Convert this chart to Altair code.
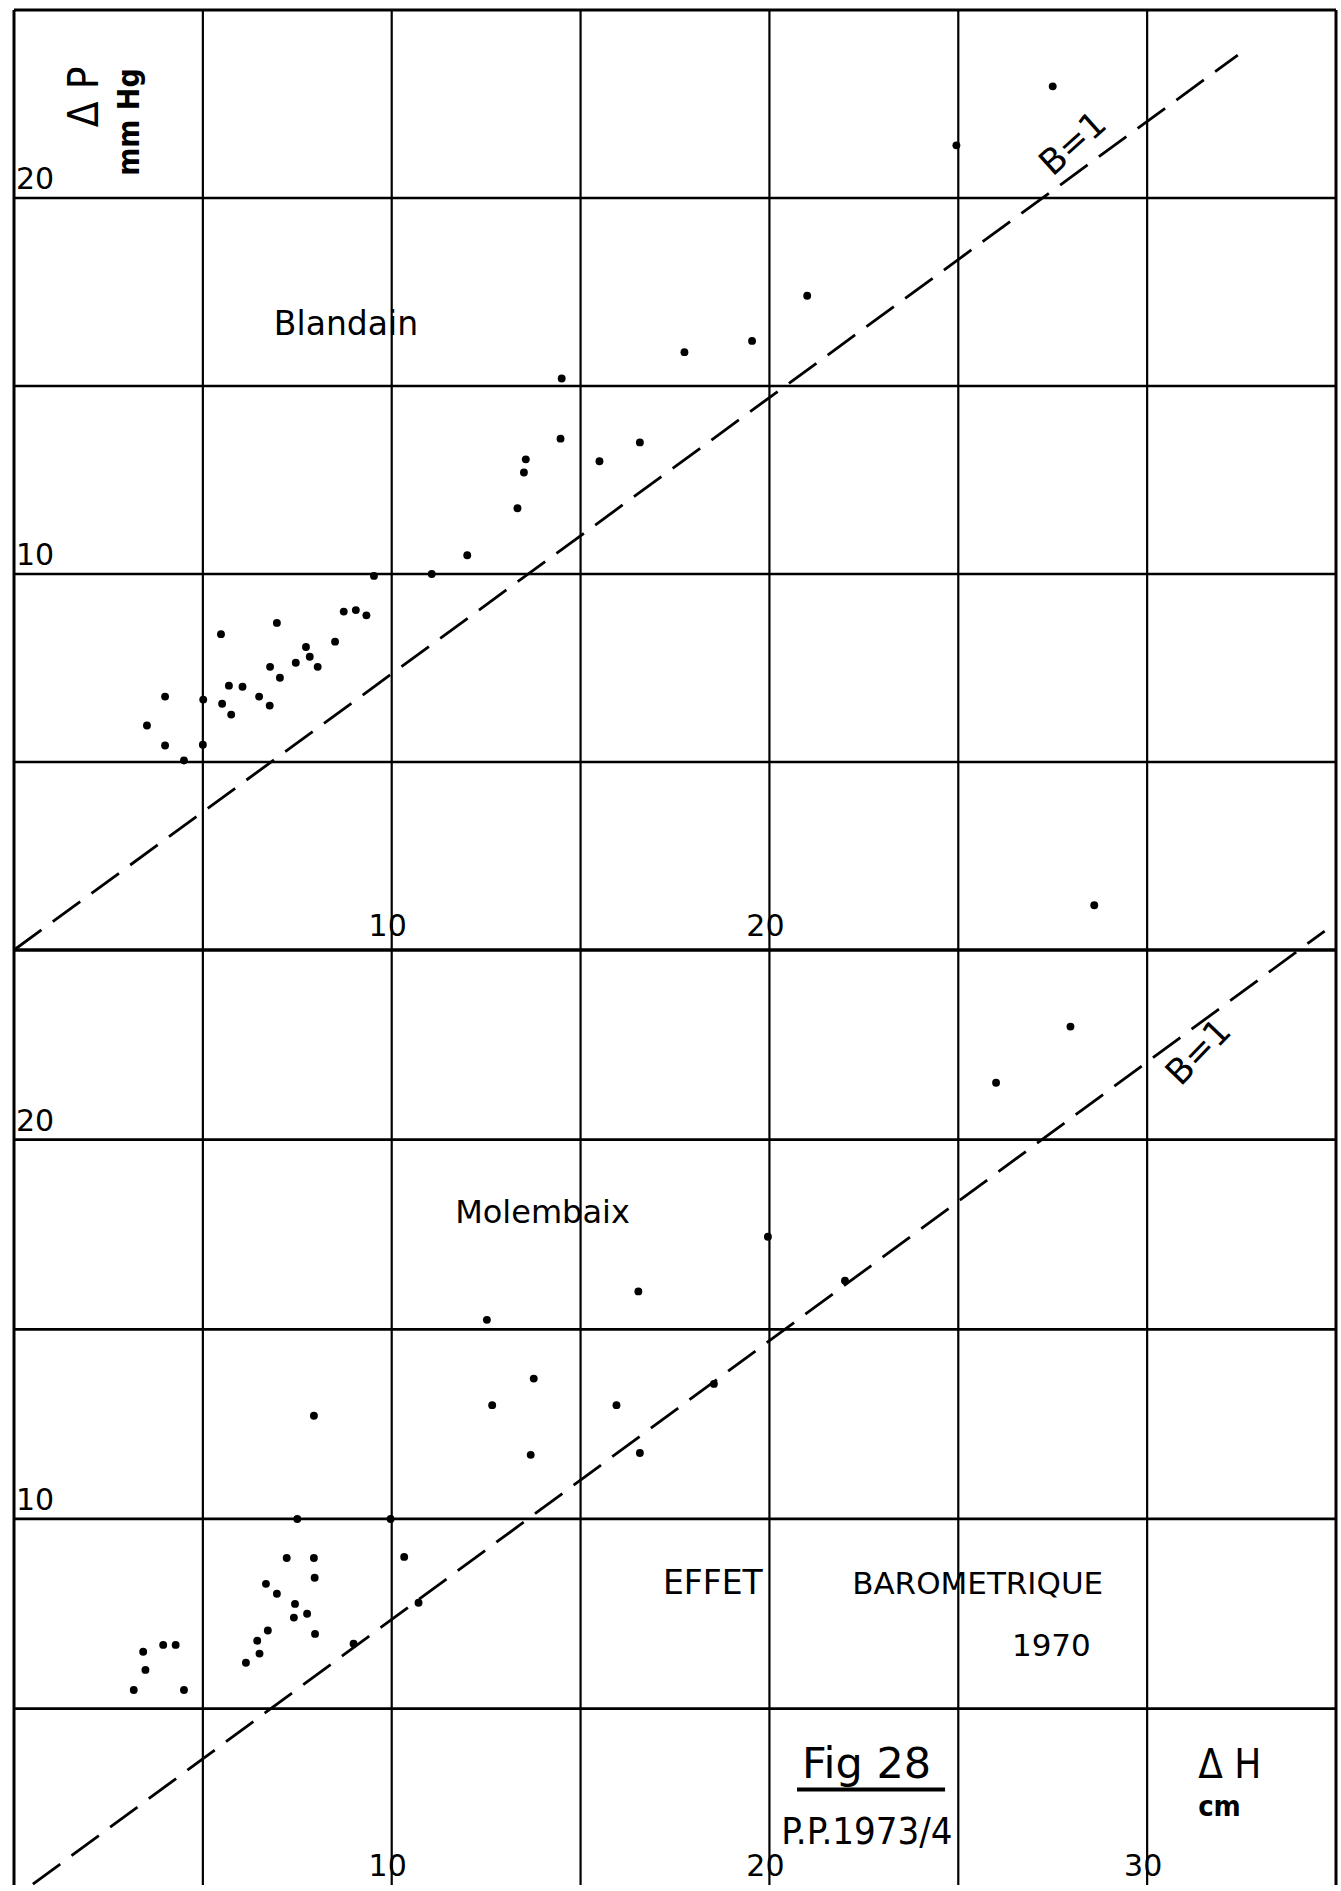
import altair as alt
import pandas as pd

# ---- Blandain : ΔH (cm) vs ΔP (mmHg) ----
blandain_dh = [14.5, 17.75, 14.47, 16.57, 15.5, 13.55, 13.5, 27.5, 24.95, 21.0,
               19.54, 13.33, 12.0, 11.06, 9.53, 8.73, 9.05, 9.33, 6.96, 5.48,
               8.5, 7.73, 7.83, 7.46, 6.78, 8.04, 7.04, 5.69, 6.05, 4.0,
               5.01, 6.49, 5.51, 6.77, 5.75, 3.52, 4.0, 5.0, 4.5, 28.6]
blandain_dp = [15.2, 15.9, 13.6, 13.5, 13.0, 13.05, 12.7, 22.97, 21.4, 17.4,
               16.2, 11.75, 10.5, 10.0, 9.95, 9.0, 9.04, 8.9, 8.7, 8.4,
               8.2, 8.06, 7.8, 7.64, 7.53, 7.53, 7.24, 7.03, 7.0, 6.74,
               6.66, 6.74, 6.55, 6.5, 6.26, 5.97, 5.44, 5.46, 5.04, 1.19]

# ---- Molembaix : ΔH (cm) vs ΔP (mmHg) ----
molembaix_dh = [12.52, 16.53, 13.76, 27.97, 26.0, 19.96, 22.0, 18.53, 12.66, 15.95,
                7.94, 13.68, 16.57, 7.5, 9.97, 7.22, 7.94, 10.33, 7.96, 6.67,
                6.96, 7.44, 10.71, 7.41, 7.76, 6.72, 7.97, 8.99, 6.44, 6.5,
                6.14, 3.42, 3.95, 4.28, 3.48, 3.17, 4.5]
molembaix_dp = [15.25, 16.0, 13.7, 22.98, 21.5, 17.44, 16.28, 13.56, 13.0, 13.0,
                12.72, 11.69, 11.74, 10.0, 10.0, 8.97, 8.97, 9.0, 8.45, 8.29,
                8.03, 7.76, 7.79, 7.4, 7.5, 7.06, 6.97, 6.71, 6.79, 6.45,
                6.21, 6.5, 6.68, 6.68, 6.02, 5.49, 5.49]

# ---- B = 1 reference lines (end points) ----
b1_top_dh = [0.0, 32.4]
b1_top_dp = [0.0, 23.8]
b1_bot_dh = [0.5, 34.7]
b1_bot_dp = [0.37, 25.5]

# ---- grid and tick values ----
grid_dh = [5, 10, 15, 20, 25, 30]
grid_dp = [5, 10, 15, 20]
frame_dh = [0, 35]
dp_ticks = [10, 20]
dh_ticks_top = [10, 20]
dh_ticks_bottom = [10, 20, 30]

W = 1322
H_TOP = 940
H_BOT = 935
X_DOM = [0, 35]
Y_DOM_TOP = [0, 25]
Y_DOM_BOT = [0.35, 25]

FONT = "DejaVu Sans"
FONT_C = "'DejaVu Sans Condensed', 'DejaVu Sans'"
INK = "#000000"


def text_layer(x, y, txt, xs, ys, size, font=FONT, weight="normal", angle=0,
               align="left", baseline="alphabetic", dx=0, dy=0):
    df = pd.DataFrame({"x": [x], "y": [y], "t": [txt]})
    return alt.Chart(df).mark_text(
        font=font, fontSize=size, fontWeight=weight, angle=angle,
        align=align, baseline=baseline, dx=dx, dy=dy, color=INK,
    ).encode(
        x=alt.X("x:Q", scale=xs, axis=None),
        y=alt.Y("y:Q", scale=ys, axis=None),
        text="t:N",
    )


def panel(dh, dp, line_dh, line_dp, y_dom, height, xticks, xlabel_dy,
          annotations, bottom_frame):
    xs = alt.Scale(domain=X_DOM, nice=False, zero=False)
    ys = alt.Scale(domain=y_dom, nice=False, zero=False)

    vgrid = alt.Chart(pd.DataFrame({"v": grid_dh})).mark_rule(
        color=INK, strokeWidth=2.2
    ).encode(x=alt.X("v:Q", scale=xs, axis=None))
    hgrid = alt.Chart(pd.DataFrame({"v": grid_dp})).mark_rule(
        color=INK, strokeWidth=2.7
    ).encode(y=alt.Y("v:Q", scale=ys, axis=None))

    vframe = alt.Chart(pd.DataFrame({"v": frame_dh})).mark_rule(
        color=INK, strokeWidth=3
    ).encode(x=alt.X("v:Q", scale=xs, axis=None))
    hf = [y_dom[1]] + ([y_dom[0]] if bottom_frame else [])
    hframe = alt.Chart(pd.DataFrame({"v": hf})).mark_rule(
        color=INK, strokeWidth=3.2
    ).encode(y=alt.Y("v:Q", scale=ys, axis=None))

    bline = alt.Chart(pd.DataFrame({"dh": line_dh, "dp": line_dp})).mark_line(
        color=INK, strokeWidth=2.8, strokeDash=[34, 14], clip=False
    ).encode(
        x=alt.X("dh:Q", scale=xs, axis=None),
        y=alt.Y("dp:Q", scale=ys, axis=None),
    )

    pts = alt.Chart(pd.DataFrame({"dh": dh, "dp": dp})).mark_circle(
        color=INK, size=62, opacity=1
    ).encode(
        x=alt.X("dh:Q", scale=xs, axis=None),
        y=alt.Y("dp:Q", scale=ys, axis=None),
    )

    ylab = alt.Chart(pd.DataFrame({"v": dp_ticks, "x0": [X_DOM[0]] * len(dp_ticks)})).mark_text(
        font=FONT, fontSize=30, align="left", baseline="alphabetic", dx=2, dy=-9, color=INK
    ).encode(
        x=alt.X("x0:Q", scale=xs, axis=None),
        y=alt.Y("v:Q", scale=ys, axis=None),
        text=alt.Text("v:Q"),
    )
    xlab = alt.Chart(pd.DataFrame({"v": xticks, "y0": [y_dom[0]] * len(xticks)})).mark_text(
        font=FONT, fontSize=30, align="center", baseline="alphabetic", dx=-4, dy=xlabel_dy, color=INK
    ).encode(
        x=alt.X("v:Q", scale=xs, axis=None),
        y=alt.Y("y0:Q", scale=ys, axis=None),
        text=alt.Text("v:Q"),
    )

    layers = [vgrid, hgrid, vframe, hframe, bline, pts, ylab, xlab]
    for a in annotations:
        layers.append(text_layer(xs=xs, ys=ys, **a))
    return alt.layer(*layers).properties(width=W, height=height), xs, ys


top_notes = [
    dict(x=6.88, y=16.36, txt="Blandain", size=33),
    dict(x=1.88, y=22.69, txt="Δ P", size=42, font=FONT_C, angle=270,
         align="center", baseline="middle"),
    dict(x=3.07, y=22.02, txt="mm Hg", size=30, font=FONT_C, weight="bold",
         angle=270, align="center", baseline="middle"),
    dict(x=28.04, y=21.44, txt="B=1", size=35, angle=318,
         align="center", baseline="middle"),
]

bottom_notes = [
    dict(x=11.68, y=17.81, txt="Molembaix", size=32),
    dict(x=31.37, y=22.3, txt="B=1", size=35, angle=314,
         align="center", baseline="middle"),
    dict(x=17.18, y=8.03, txt="EFFET", size=33),
    dict(x=22.19, y=8.03, txt="BAROMETRIQUE", size=31),
    dict(x=26.42, y=6.40, txt="1970", size=31),
    dict(x=20.86, y=3.16, txt="Fig 28", size=43),
    dict(x=20.31, y=1.44, txt="P.P.1973/4", size=38, font=FONT_C),
    dict(x=31.35, y=3.16, txt="Δ H", size=40, font=FONT_C),
    dict(x=31.35, y=2.18, txt="cm", size=29, font=FONT_C, weight="bold"),
]

top, _, _ = panel(blandain_dh, blandain_dp, b1_top_dh, b1_top_dp, Y_DOM_TOP, H_TOP,
                  dh_ticks_top, -14, top_notes, True)
bottom, bxs, bys = panel(molembaix_dh, molembaix_dp, b1_bot_dh, b1_bot_dp, Y_DOM_BOT, H_BOT,
                         dh_ticks_bottom, -9, bottom_notes, False)

# underline beneath "Fig 28"
underline = alt.Chart(pd.DataFrame({"x": [20.73], "x2": [24.65], "y": [2.87]})).mark_rule(
    color=INK, strokeWidth=4
).encode(
    x=alt.X("x:Q", scale=bxs, axis=None),
    x2="x2:Q",
    y=alt.Y("y:Q", scale=bys, axis=None),
)
bottom = alt.layer(bottom, underline)

chart = alt.vconcat(top, bottom, spacing=0, bounds="flush").properties(
    padding={"left": 8, "top": 8, "right": 0, "bottom": 0},
    background="white",
).configure_view(stroke=None)

chart.save("out.html", embed_options={"renderer": "svg", "actions": False})
